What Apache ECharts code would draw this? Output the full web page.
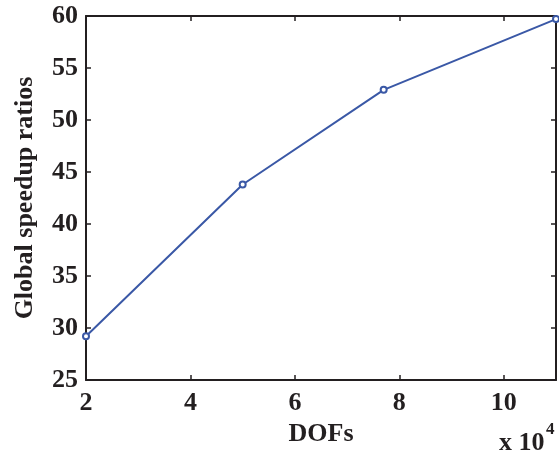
<!DOCTYPE html>
<html>
<head>
<meta charset="utf-8">
<script src="https://cdn.jsdelivr.net/npm/echarts@6/dist/echarts.min.js"></script>
<style>
html,body{margin:0;padding:0;background:#fff;}
#chart{width:559px;height:460px;}
</style>
</head>
<body>
<div id="chart"></div>
<script>
// DOFs (x 10^4) and global speedup ratios
var dofs = [2, 5, 7.7, 11];
var speedup = [29.2, 43.8, 52.9, 59.7];
var xTitle = 'DOFs';
var yTitle = 'Global speedup ratios';

var font = 'Liberation Serif';
var ink = '#231f20';
var blue = '#3a58a6';

var myChart = echarts.init(document.getElementById('chart'));

function boxAxis(pos, min, max, interval, show) {
	return {
		type : 'value',
		position : pos,
		min : min,
		max : max,
		interval : interval,
		axisLine : { show : true, lineStyle : { color : ink, width : 2 } },
		axisTick : { show : true, inside : true, length : 5, lineStyle : { color : ink, width : 1.5 } },
		axisLabel : { show : show, color : ink, fontFamily : font, fontSize : 26, fontWeight : 'bold', showMaxLabel : false },
		splitLine : { show : false }
	};
}

var xMain = boxAxis('bottom', 2, 11, 2, true);
xMain.axisLabel.margin = 10;
xMain.name = xTitle;
xMain.nameLocation = 'middle';
xMain.nameGap = 40;
xMain.nameTextStyle = { color : ink, fontFamily : font, fontSize : 26, fontWeight : 'bold' };

var yMain = boxAxis('left', 25, 60, 5, true);
yMain.axisLabel.margin = 8;
yMain.axisLabel.showMaxLabel = true;
yMain.name = yTitle;
yMain.nameLocation = 'middle';
yMain.nameGap = 48;
yMain.nameTextStyle = { color : ink, fontFamily : font, fontSize : 26, fontWeight : 'bold' };

var option = {
	animation : false,
	backgroundColor : '#fff',
	grid : { left : 86, right : 3, top : 16, bottom : 80 },
	xAxis : [xMain, boxAxis('top', 2, 11, 2, false)],
	yAxis : [yMain, boxAxis('right', 25, 60, 5, false)],
	graphic : [
		{ type : 'text', left : 499, top : 430, style : { text : 'x 10', fill : ink, font : 'bold 26px "Liberation Serif"' } },
		{ type : 'text', left : 546, top : 421, style : { text : '4', fill : ink, font : 'bold 17px "Liberation Serif"' } }
	],
	series : [{
		type : 'line',
		data : dofs.map(function(d, i) { return [d, speedup[i]]; }),
		symbol : 'emptyCircle',
		symbolSize : 6,
		clip : false,
		lineStyle : { color : blue, width : 2 },
		itemStyle : { color : blue, borderColor : blue, borderWidth : 1.5 }
	}]
};
myChart.setOption(option);
</script>
</body>
</html>
